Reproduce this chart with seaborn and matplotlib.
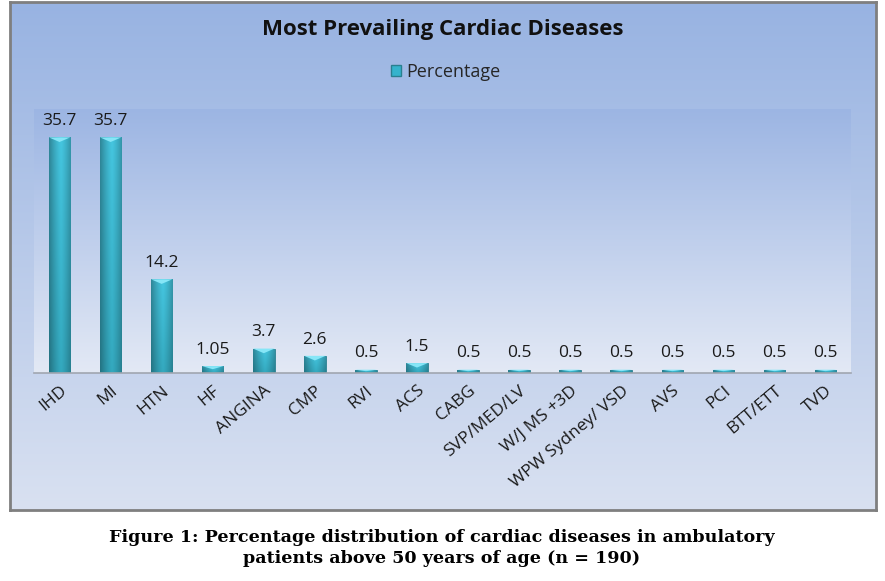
import numpy as np
import matplotlib
matplotlib.use("Agg")
import matplotlib.pyplot as plt
from matplotlib.patches import Patch, Polygon
import seaborn as sns

categories = ["IHD", "MI", "HTN", "HF", "ANGINA", "CMP", "RVI", "ACS", "CABG",
              "SVP/MED/LV", "W/J MS +3D", "WPW Sydney/ VSD", "AVS", "PCI",
              "BTT/ETT", "TVD"]
percentage = [35.7, 35.7, 14.2, 1.05, 3.7, 2.6, 0.5, 1.5, 0.5,
              0.5, 0.5, 0.5, 0.5, 0.5, 0.5, 0.5]
series_name = "Percentage"
chart_title = "Most Prevailing Cardiac Diseases"
caption = ("Figure 1: Percentage distribution of cardiac diseases in ambulatory\n"
           "patients above 50 years of age (n = 190)")

sns.set_theme(style="white")
plt.rcParams["font.family"] = ["Open Sans", "DejaVu Sans"]

W, H = 885, 581
fig = plt.figure(figsize=(W / 100, H / 100), dpi=100)
fig.patch.set_facecolor("white")


def vgrad(top, bottom, n=256):
    t = np.linspace(0, 1, n)[:, None]
    top = np.array(matplotlib.colors.to_rgb(top))
    bottom = np.array(matplotlib.colors.to_rgb(bottom))
    return (top * (1 - t) + bottom * t)[:, None, :].repeat(2, axis=1)


# chart frame with blue gradient
bg = fig.add_axes([10 / W, 1 - 510 / H, 866 / W, 508 / H])
bg.imshow(vgrad("#98b3e2", "#d9e1f1"), aspect="auto", extent=[0, 1, 0, 1])
bg.set_xticks([])
bg.set_yticks([])
for s in bg.spines.values():
    s.set_color("#7f7f7f")
    s.set_linewidth(2)

# plot area
ax = fig.add_axes([34 / W, 1 - 373 / H, 817 / W, 264 / H])
ax.set_zorder(2)
ax.patch.set_alpha(0)
ax.imshow(vgrad("#9cb5e3", "#e3e9f5"), aspect="auto", extent=[0, 1, 0, 1],
          transform=ax.transAxes, zorder=0)

sns.barplot(x=categories, y=percentage, width=0.42, color="#35b3cc",
            edgecolor="#2a7f8f", linewidth=0.6, ax=ax, zorder=2)
ax.set_xlim(-0.5, len(categories) - 0.5)
ax.set_ylim(0, 40)

# cylinder-like shading and top bevel for each bar
xs = np.linspace(0, 1, 64)
shade = 1 - 0.35 * np.abs(xs - 0.55) ** 1.3 * 2
light = np.array(matplotlib.colors.to_rgb("#45c6e0"))
dark = np.array(matplotlib.colors.to_rgb("#1f8596"))
for p in ax.patches:
    x0, w, h = p.get_x(), p.get_width(), p.get_height()
    ys = np.linspace(0, 1, 64)[:, None]
    base = light * (1 - ys[..., None] * 0.45) + dark * (ys[..., None] * 0.45)
    img = base * shade[None, :, None]
    im = ax.imshow(np.clip(img, 0, 1), aspect="auto",
                   extent=[x0, x0 + w, 0, h], zorder=2.5)
    im.set_clip_path(p)
    bh = min(0.7, h * 0.45)
    ax.add_patch(Polygon([[x0, h], [x0 + w, h], [x0 + w / 2, h - bh]],
                         closed=True, facecolor="#86e6f7", edgecolor="none",
                         zorder=3))

ax.bar_label(ax.containers[0], labels=[f"{v:g}" for v in percentage],
             padding=6, fontsize=12.5, color="#1a1a1a")

ax.set_yticks([])
ax.set_xticks(range(len(categories)))
ax.set_xticklabels(categories, rotation=40, ha="right",
                   rotation_mode="anchor", fontsize=12.5, color="#1a1a1a")
ax.tick_params(axis="x", length=0, pad=7)
for side in ["top", "left", "right"]:
    ax.spines[side].set_visible(False)
ax.spines["bottom"].set_color("#a0a6b0")
ax.spines["bottom"].set_linewidth(1.2)
ax.set_xlabel("")
ax.set_ylabel("")

fig.text(443 / W, 1 - 30 / H, chart_title, ha="center", va="center",
         fontsize=16, fontweight="bold", color="#111111")
fig.legend(handles=[Patch(facecolor="#35b3cc", edgecolor="#2a7f8f",
                          label=series_name)],
           loc="center", bbox_to_anchor=(446 / W, 1 - 72 / H),
           frameon=False, fontsize=13, handlelength=0.55, handleheight=0.55,
           handletextpad=0.3)

fig.text(442 / W, 1 - 548 / H, caption, ha="center", va="center",
         fontsize=12.6, fontweight="bold", family="DejaVu Serif",
         linespacing=1.35, color="black")

fig.savefig("out.png", dpi=100)
plt.close(fig)
